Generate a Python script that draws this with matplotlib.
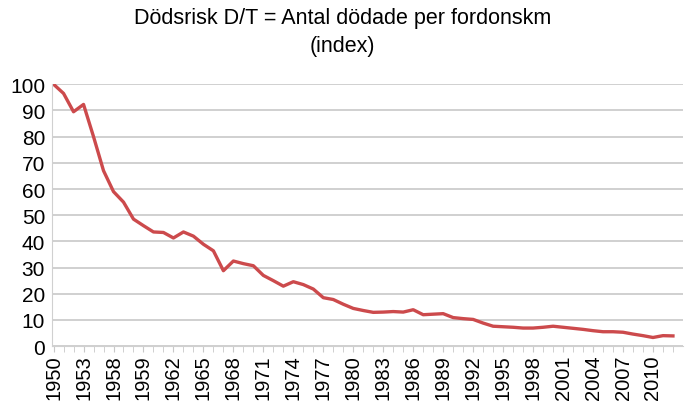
import matplotlib
matplotlib.use("Agg")
import matplotlib.pyplot as plt
import numpy as np

plt.rcParams['font.family'] = ['Liberation Sans', 'DejaVu Sans']

years = list(range(1950, 2013))
values = [100, 96.5, 89.5, 92.3, 80, 67, 59, 55, 48.5, 46,
          43.6, 43.4, 41.3, 43.6, 42, 38.9, 36.4, 28.8, 32.5, 31.5,
          30.7, 27, 25, 22.9, 24.6, 23.5, 21.8, 18.5, 17.8, 16,
          14.4, 13.6, 12.9, 13.0, 13.2, 13.0, 13.9, 12.0, 12.2, 12.4,
          10.9, 10.5, 10.2, 8.8, 7.6, 7.4, 7.2, 6.9, 6.9, 7.2,
          7.6, 7.2, 6.8, 6.4, 5.9, 5.5, 5.5, 5.3, 4.6, 4.0,
          3.3, 4.0, 3.9]
tick_labels = ["1950", "1953", "1958", "1959", "1962", "1965", "1968", "1971",
               "1974", "1977", "1980", "1983", "1986", "1989", "1992", "1995",
               "1998", "2001", "2004", "2007", "2010"]
yticks = [0, 10, 20, 30, 40, 50, 60, 70, 80, 90, 100]
title = "Dödsrisk D/T = Antal dödade per fordonskm\n(index)"

fig = plt.figure(figsize=(6.85, 4.06), dpi=100)
ax = fig.add_axes([0.076, 0.145, 0.921, 0.645])

x = np.arange(len(values))
ax.plot(x, values, color="#cc4a4c", lw=2.4, solid_joinstyle="round")

ax.set_ylim(0, 100)
ax.set_xlim(-0.15, len(values))
ax.set_yticks(yticks)
ax.set_yticklabels([str(v) for v in yticks], fontsize=15)
ax.yaxis.grid(True, color="#c8c8c8", lw=1.2)
ax.set_axisbelow(True)
ax.tick_params(axis="y", length=0, pad=5)

ax.set_xticks(np.arange(0, len(values), 3))
ax.set_xticklabels(tick_labels, rotation=90, fontsize=14.5)
ax.set_xticks(x, minor=True)
ax.tick_params(axis="x", which="both", length=4, color="#c8c8c8", direction="out", pad=2)

for s in ["top", "right"]:
    ax.spines[s].set_visible(False)
ax.spines["left"].set_color("#d0d0d0")
ax.spines["bottom"].set_color("#d0d0d0")

fig.text(0.5, 0.98, title, ha="center", va="top", fontsize=15.5, linespacing=1.4)

fig.savefig("out.png", dpi=100)
